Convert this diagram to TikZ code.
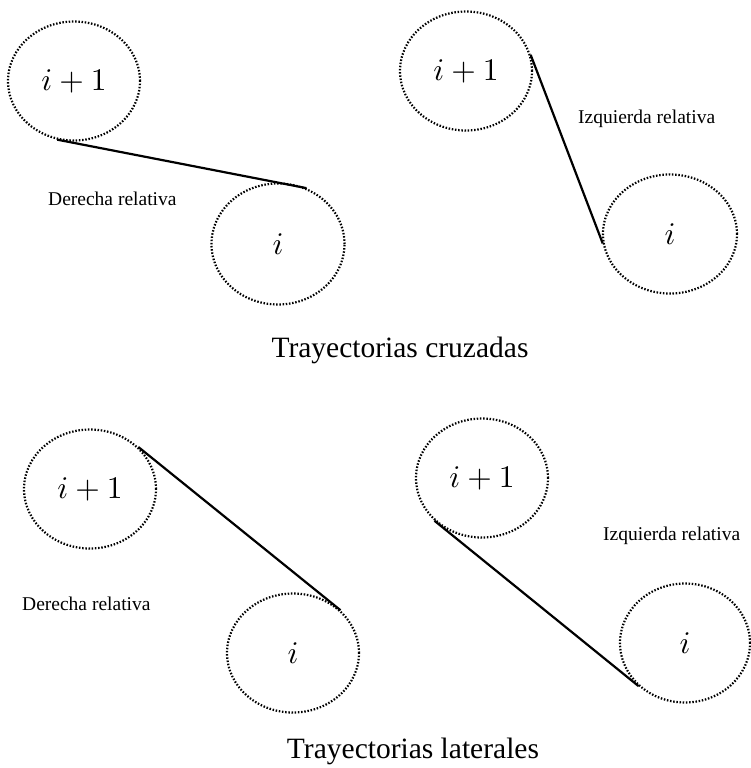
\documentclass[tikz,border=0pt]{standalone}
\usepackage{fontspec}
\setmainfont{Liberation Serif}
\usetikzlibrary{shapes.geometric}
\newcommand{\biglab}[1]{\scalebox{3.15}{$#1$}}
\tikzset{
  agent/.style={ellipse, draw, line width=2.2pt, dash pattern=on 1.5pt off 1.7pt,
    inner sep=0pt, minimum width=132pt, minimum height=119pt},
  path/.style={line width=2.2pt},
  note/.style={anchor=base west, inner sep=0pt, font=\fontsize{19.5}{23}\selectfont},
  caption/.style={anchor=base, inner sep=0pt, font=\fontsize{29.5}{35}\selectfont}
}
\begin{document}
\begin{tikzpicture}[x=1pt,y=-1pt]
\useasboundingbox (0,0) rectangle (750,768);
% Panel 1
\node[agent] (a1) at (74,81) {\biglab{i+1}};
\node[agent, minimum width=133pt, minimum height=121pt] (b1) at (278,244) {\biglab{i}};
\draw[path] (a1.254) -- (b1.63);
\node[note] (n1) at (48,205) {Derecha relativa};
% Panel 2
\node[agent] (a2) at (466,71) {\biglab{i+1}};
\node[agent, minimum width=134pt] (b2) at (670,234) {\biglab{i}};
\draw[path] (a2.14) -- (b2.188);
\node[note] (n2) at (578,123) {Izquierda relativa};
\node[caption] (c1) at (400,357) {Trayectorias cruzadas};
% Panel 3
\node[agent] (a3) at (90,489) {\biglab{i+1}};
\node[agent] (b3) at (293,653) {\biglab{i}};
\draw[path] (a3.41) -- (b3.42);
\node[note] (n3) at (22,610) {Derecha relativa};
% Panel 4
\node[agent] (a4) at (482,478) {\biglab{i+1}};
\node[agent, minimum width=130pt] (b4) at (685,643) {\biglab{i}};
\draw[path] (a4.222) -- (b4.223);
\node[note] (n4) at (603,540) {Izquierda relativa};
\node[caption] (c2) at (413,758) {Trayectorias laterales};
\end{tikzpicture}
\end{document}
